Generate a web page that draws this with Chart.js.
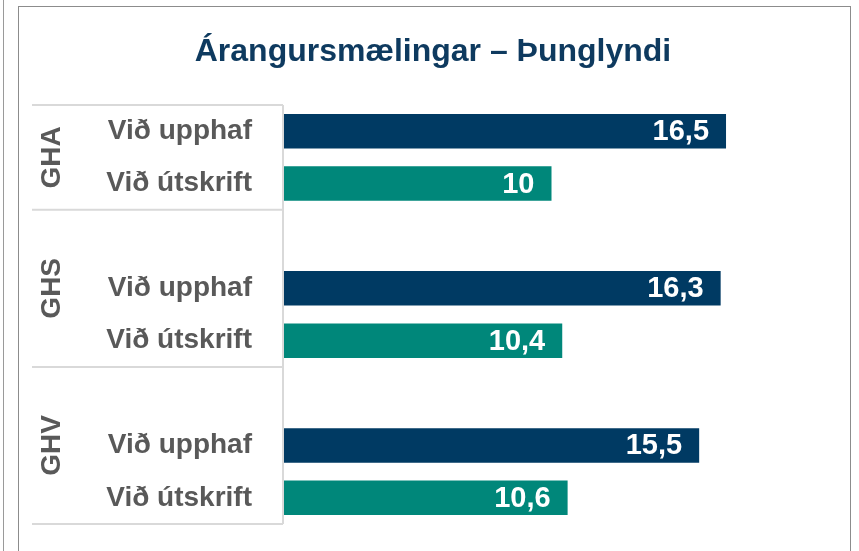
<!DOCTYPE html>
<html>
<head>
<meta charset="utf-8">
<script src="https://cdn.jsdelivr.net/npm/chart.js@4/dist/chart.umd.min.js"></script>
<style>
  html, body { margin: 0; padding: 0; background: #ffffff; }
  #wrap { position: relative; width: 859px; height: 551px; overflow: hidden; }
  #outerLine { position: absolute; left: 3px; top: 0; width: 1px; height: 551px; background: #9a9a9a; }
  #box { position: absolute; left: 18px; top: 6px; width: 833px; height: 560px; border: 1px solid #8c8c8c; box-sizing: border-box; }
  canvas { position: absolute; left: 0; top: 0; }
</style>
</head>
<body>
<div id="wrap">
  <div id="outerLine"></div>
  <div id="box"></div>
  <canvas id="c" width="859" height="551"></canvas>
</div>
<script>
const chartTitle = 'Árangursmælingar – Þunglyndi';
const groups = ['GHA', 'GHS', 'GHV'];
const seriesNames = ['Við upphaf', 'Við útskrift'];
const upphaf = [16.5, 16.3, 15.5];
const utskrift = [10, 10.4, 10.6];
const colors = ['#003A63', '#00877A'];

// Build category slots: each group after the first begins with an empty spacer slot
const slotLabels = [];
const upphafData = [];
const utskriftData = [];
const groupSlots = []; // [firstSlot, lastSlot] for each group
groups.forEach((g, i) => {
  const start = slotLabels.length;
  if (i > 0) { slotLabels.push(''); upphafData.push(null); utskriftData.push(null); }
  slotLabels.push(seriesNames[0]); upphafData.push(upphaf[i]); utskriftData.push(null);
  slotLabels.push(seriesNames[1]); upphafData.push(null); utskriftData.push(utskrift[i]);
  groupSlots.push([start, slotLabels.length - 1]);
});

const FONT = "'Liberation Sans', Arial, sans-serif";
const GRAY = '#595959';
const LINE = '#D9D9D9';

const groupPlugin = {
  id: 'groupPlugin',
  afterDraw(chart) {
    const ctx = chart.ctx;
    const y = chart.scales.y;
    const area = chart.chartArea;
    const half = (y.getPixelForValue(1) - y.getPixelForValue(0)) / 2;
    const leftX = 32;
    ctx.save();
    ctx.strokeStyle = LINE;
    ctx.lineWidth = 2;
    // horizontal separators
    const bounds = [];
    groupSlots.forEach(([s, e], i) => {
      bounds.push(y.getPixelForValue(s) - half);
      if (i === groupSlots.length - 1) bounds.push(y.getPixelForValue(e) + half);
    });
    bounds.forEach(b => {
      ctx.beginPath(); ctx.moveTo(leftX, b); ctx.lineTo(area.left, b); ctx.stroke();
    });
    // vertical axis line
    ctx.beginPath();
    ctx.moveTo(area.left, bounds[0]);
    ctx.lineTo(area.left, bounds[bounds.length - 1]);
    ctx.stroke();
    // rotated group labels
    ctx.fillStyle = GRAY;
    ctx.font = 'bold 28px ' + FONT;
    ctx.textAlign = 'center';
    ctx.textBaseline = 'middle';
    groupSlots.forEach(([s, e], i) => {
      const cy = (y.getPixelForValue(s) - half + y.getPixelForValue(e) + half) / 2;
      ctx.save();
      ctx.translate(52, cy);
      ctx.rotate(-Math.PI / 2);
      ctx.fillText(groups[i], 0, 0);
      ctx.restore();
    });
    // value labels inside bar ends
    ctx.fillStyle = '#ffffff';
    ctx.font = 'bold 29px ' + FONT;
    ctx.textAlign = 'right';
    chart.data.datasets.forEach((ds, di) => {
      const meta = chart.getDatasetMeta(di);
      meta.data.forEach((bar, idx) => {
        const v = ds.data[idx];
        if (v === null || v === undefined) return;
        ctx.fillText(String(v).replace('.', ','), bar.x - 17, bar.y + 1);
      });
    });
    ctx.restore();
  }
};

new Chart(document.getElementById('c'), {
  type: 'bar',
  data: {
    labels: slotLabels,
    datasets: [
      { label: seriesNames[0], data: upphafData, backgroundColor: colors[0], grouped: false,
        barPercentage: 0.66, categoryPercentage: 1 },
      { label: seriesNames[1], data: utskriftData, backgroundColor: colors[1], grouped: false,
        barPercentage: 0.66, categoryPercentage: 1 }
    ]
  },
  options: {
    responsive: false,
    animation: false,
    indexAxis: 'y',
    layout: { padding: { left: 46, right: 39, top: 0, bottom: 27 } },
    plugins: {
      legend: { display: false },
      tooltip: { enabled: false },
      title: {
        display: true,
        text: chartTitle,
        color: '#0E3A5F',
        font: { family: FONT, size: 32, weight: 'bold', lineHeight: 1.2 },
        padding: { top: 33, bottom: 33.6 }
      }
    },
    scales: {
      x: { display: false, min: 0, max: 20 },
      y: {
        grid: { display: false, drawTicks: false },
        border: { display: false },
        ticks: { color: GRAY, font: { family: FONT, size: 28, weight: 'bold' }, padding: 31, autoSkip: false },
        afterFit(scale) { scale.width = 283 - 46; scale.paddingTop = 0; scale.paddingBottom = 0; }
      }
    }
  },
  plugins: [groupPlugin]
});
</script>
</body>
</html>
